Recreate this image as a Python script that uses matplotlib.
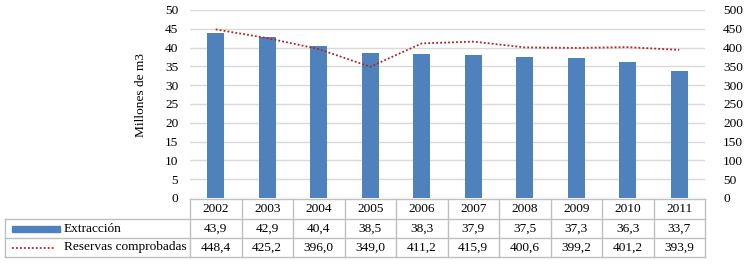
import matplotlib.pyplot as plt
from matplotlib.patches import Rectangle
from matplotlib.lines import Line2D

years = ["2002", "2003", "2004", "2005", "2006", "2007", "2008", "2009", "2010", "2011"]
extraccion = [43.9, 42.9, 40.4, 38.5, 38.3, 37.9, 37.5, 37.3, 36.3, 33.7]
reservas = [448.4, 425.2, 396.0, 349.0, 411.2, 415.9, 400.6, 399.2, 401.2, 393.9]
left_ticks = list(range(0, 51, 5))
right_ticks = list(range(0, 501, 50))

plt.rcParams['font.family'] = ['Liberation Serif', 'DejaVu Serif']
fs = 9.6
blue = '#4F81BD'
red = '#B22222'
grid_c = '#D9D9D9'
tab_c = '#BFBFBF'

fig = plt.figure(figsize=(7.5, 2.65), dpi=100)
W, H = 750, 265
x0, x1, y0, y1 = 190, 705, 198, 10
ax = fig.add_axes([x0 / W, 1 - y0 / H, (x1 - x0) / W, (y0 - y1) / H])

xs = list(range(len(years)))
ax.bar(xs, extraccion, width=0.33, color=blue, zorder=3)
ax.set_xlim(-0.5, len(years) - 0.5)
ax.set_ylim(0, 50)
ax.set_yticks(left_ticks)
ax.set_xticks([])
ax.yaxis.grid(True, color=grid_c, linewidth=1)
ax.set_axisbelow(True)
for s in ['top', 'right', 'left', 'bottom']:
    ax.spines[s].set_visible(False)
ax.tick_params(axis='y', length=0, labelsize=fs, pad=8.5)
ax.set_ylabel("Millones de m3", fontsize=fs)
ax.yaxis.set_label_coords((147 - x0) / (x1 - x0), 1 - (95 - y1) / (y0 - y1))

ax2 = ax.twinx()
ax2.plot(xs, reservas, color=red, linestyle=(0, (1, 1.2)), linewidth=1.3, zorder=4)
ax2.set_ylim(0, 500)
ax2.set_yticks(right_ticks)
ax2.tick_params(axis='y', length=0, labelsize=fs, pad=13)
for s in ['top', 'right', 'left', 'bottom']:
    ax2.spines[s].set_visible(False)

# table below the plot, in axes fraction units
n = len(years)
lab_left = (5 - x0) / (x1 - x0)
ah = y0 - y1
rows_px = [199, 219, 238, 257]
rows_y = [(y0 - r) / ah for r in rows_px]
kw = dict(transform=ax.transAxes, clip_on=False, color=tab_c, linewidth=1)

# horizontal lines
ax.add_line(Line2D([0, 1], [rows_y[0], rows_y[0]], **kw))
for yy in rows_y[1:]:
    ax.add_line(Line2D([lab_left, 1], [yy, yy], **kw))
# vertical lines
for k in range(n + 1):
    ax.add_line(Line2D([k / n, k / n], [rows_y[0], rows_y[3]], **kw))
ax.add_line(Line2D([lab_left, lab_left], [rows_y[1], rows_y[3]], **kw))

tkw = dict(transform=ax.transAxes, ha='center', va='center', fontsize=fs, clip_on=False)
for k in range(n):
    cx = (k + 0.5) / n
    ax.text(cx, (rows_y[0] + rows_y[1]) / 2, years[k], **tkw)
    ax.text(cx, (rows_y[1] + rows_y[2]) / 2, f"{extraccion[k]:.1f}".replace('.', ','), **tkw)
    ax.text(cx, (rows_y[2] + rows_y[3]) / 2, f"{reservas[k]:.1f}".replace('.', ','), **tkw)

# legend keys
px = 1 / (x1 - x0)
py = 1 / ah
r1 = (rows_y[1] + rows_y[2]) / 2
r2 = (rows_y[2] + rows_y[3]) / 2
ax.add_patch(Rectangle((lab_left + 7 * px, r1 - 3 * py), 48 * px, 6 * py,
                       transform=ax.transAxes, clip_on=False, color=blue))
ax.add_line(Line2D([lab_left + 7 * px, lab_left + 50 * px], [r2, r2], transform=ax.transAxes,
                   clip_on=False, color=red, linestyle=(0, (1, 1.2)), linewidth=1.3))
ax.text(lab_left + 59 * px, r1, "Extracción", transform=ax.transAxes, ha='left', va='center',
        fontsize=fs, clip_on=False)
ax.text(lab_left + 59 * px, r2, "Reservas comprobadas", transform=ax.transAxes, ha='left',
        va='center', fontsize=fs, clip_on=False)

fig.savefig("out.png", dpi=100, facecolor='white')
